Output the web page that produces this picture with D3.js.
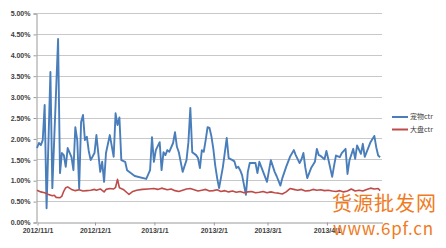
<!DOCTYPE html>
<html>
<head>
<meta charset="utf-8">
<script src="https://cdn.jsdelivr.net/npm/d3@7"></script>
<style>
  body { margin: 0; background: #fff; }
  svg { display: block; }
  .axis text { font-family: "Liberation Sans", "DejaVu Sans", sans-serif; font-size: 7px; font-weight: bold; fill: #404040; }
  .legend text { font-family: "Noto Sans CJK SC", sans-serif; font-size: 7px; fill: #404040; }
</style>
</head>
<body>
<div id="chart"></div>
<script>
const WIDTH = 446;
const HEIGHT = 248;
const PLOT_LEFT = 37;
const PLOT_RIGHT = 382;
const PLOT_TOP = 13;
const PLOT_BOTTOM = 222;

// 宠物ctr (percent)
const petDates = [
  '2012/11/1', '2012/11/2', '2012/11/3', '2012/11/4', '2012/11/5', '2012/11/6', '2012/11/8', '2012/11/9',
  '2012/11/12', '2012/11/13', '2012/11/14', '2012/11/15', '2012/11/16', '2012/11/17', '2012/11/19', '2012/11/20',
  '2012/11/21', '2012/11/22', '2012/11/23', '2012/11/24', '2012/11/25', '2012/11/26', '2012/11/27', '2012/11/28',
  '2012/11/29', '2012/12/1', '2012/12/2', '2012/12/4', '2012/12/5', '2012/12/6', '2012/12/7', '2012/12/9',
  '2012/12/11', '2012/12/12', '2012/12/13', '2012/12/14', '2012/12/15', '2012/12/17', '2012/12/18', '2012/12/22',
  '2012/12/28', '2012/12/30', '2012/12/31', '2013/1/1', '2013/1/2', '2013/1/4', '2013/1/5', '2013/1/6',
  '2013/1/7', '2013/1/8', '2013/1/9', '2013/1/11', '2013/1/12', '2013/1/13', '2013/1/14', '2013/1/16',
  '2013/1/18', '2013/1/19', '2013/1/20', '2013/1/21', '2013/1/23', '2013/1/24', '2013/1/25', '2013/1/26',
  '2013/1/27', '2013/1/28', '2013/1/29', '2013/1/30', '2013/1/31', '2013/2/1', '2013/2/2', '2013/2/3',
  '2013/2/4', '2013/2/6', '2013/2/8', '2013/2/9', '2013/2/11', '2013/2/12', '2013/2/13', '2013/2/14',
  '2013/2/15', '2013/2/16', '2013/2/18', '2013/2/19', '2013/2/20', '2013/2/23', '2013/2/24', '2013/2/25',
  '2013/2/27', '2013/3/1', '2013/3/3', '2013/3/5', '2013/3/6', '2013/3/8', '2013/3/9', '2013/3/11',
  '2013/3/13', '2013/3/15', '2013/3/16', '2013/3/18', '2013/3/19', '2013/3/20', '2013/3/21', '2013/3/22',
  '2013/3/24', '2013/3/26', '2013/3/27', '2013/3/28', '2013/3/29', '2013/3/31', '2013/4/1', '2013/4/2',
  '2013/4/4', '2013/4/5', '2013/4/6', '2013/4/8', '2013/4/9', '2013/4/11', '2013/4/12', '2013/4/13',
  '2013/4/15', '2013/4/16', '2013/4/17', '2013/4/19', '2013/4/20', '2013/4/21', '2013/4/23', '2013/4/24',
  '2013/4/26', '2013/4/27', '2013/4/28', '2013/4/29',
];
const petValues = [
  1.77, 1.89, 1.84, 1.96, 2.80, 0.33, 3.59, 0.81,
  4.38, 1.17, 1.65, 1.60, 1.32, 1.77, 1.55, 1.24,
  2.27, 1.96, 0.81, 2.39, 2.56, 1.96, 2.04, 1.70,
  1.48, 1.65, 2.08, 1.20, 1.44, 0.96, 1.65, 2.08,
  1.56, 2.60, 2.32, 2.50, 1.48, 1.44, 1.24, 1.10,
  1.03, 1.24, 2.03, 1.44, 1.72, 1.91, 1.24, 1.67,
  1.60, 1.72, 1.68, 1.89, 2.15, 1.80, 1.67, 1.20,
  1.48, 1.91, 2.73, 1.67, 1.60, 1.53, 1.29, 1.72,
  1.68, 1.96, 2.27, 2.25, 2.05, 1.75, 1.35, 1.05,
  0.81, 1.32, 2.01, 1.53, 1.48, 1.45, 1.29, 1.32,
  1.24, 1.12, 0.65, 1.20, 1.41, 1.41, 1.17, 1.44,
  1.20, 0.96, 1.48, 1.20, 1.10, 0.87, 1.05, 1.32,
  1.56, 1.72, 1.60, 1.41, 1.50, 1.65, 1.30, 1.05,
  1.29, 1.44, 1.75, 1.60, 1.58, 1.50, 1.70, 1.50,
  1.08, 1.35, 1.59, 1.55, 1.65, 1.75, 1.15, 1.47,
  1.75, 1.51, 1.83, 1.63, 1.87, 1.56, 1.79, 1.91,
  2.06, 1.79, 1.59, 1.55,
];

// 大盘ctr (percent)
const marketDates = [
  '2012/11/1', '2012/11/3', '2012/11/5', '2012/11/7', '2012/11/9', '2012/11/10', '2012/11/11', '2012/11/13',
  '2012/11/14', '2012/11/15', '2012/11/16', '2012/11/17', '2012/11/19', '2012/11/21', '2012/11/23', '2012/11/25',
  '2012/11/27', '2012/11/29', '2012/12/1', '2012/12/2', '2012/12/4', '2012/12/6', '2012/12/7', '2012/12/9',
  '2012/12/11', '2012/12/12', '2012/12/13', '2012/12/14', '2012/12/16', '2012/12/18', '2012/12/19', '2012/12/21',
  '2012/12/23', '2012/12/26', '2012/12/29', '2013/1/1', '2013/1/3', '2013/1/5', '2013/1/8', '2013/1/10',
  '2013/1/12', '2013/1/14', '2013/1/16', '2013/1/18', '2013/1/20', '2013/1/22', '2013/1/24', '2013/1/26',
  '2013/1/28', '2013/1/30', '2013/2/1', '2013/2/3', '2013/2/5', '2013/2/7', '2013/2/9', '2013/2/11',
  '2013/2/13', '2013/2/15', '2013/2/17', '2013/2/19', '2013/2/21', '2013/2/23', '2013/2/25', '2013/2/27',
  '2013/3/1', '2013/3/3', '2013/3/5', '2013/3/7', '2013/3/9', '2013/3/11', '2013/3/13', '2013/3/15',
  '2013/3/17', '2013/3/19', '2013/3/21', '2013/3/23', '2013/3/25', '2013/3/27', '2013/3/29', '2013/3/31',
  '2013/4/2', '2013/4/4', '2013/4/6', '2013/4/8', '2013/4/10', '2013/4/12', '2013/4/14', '2013/4/16',
  '2013/4/18', '2013/4/20', '2013/4/22', '2013/4/24', '2013/4/26', '2013/4/28', '2013/4/29',
];
const marketValues = [
  0.76, 0.72, 0.70, 0.66, 0.63, 0.64, 0.59, 0.58,
  0.62, 0.74, 0.82, 0.84, 0.78, 0.75, 0.77, 0.74,
  0.75, 0.76, 0.78, 0.76, 0.79, 0.72, 0.78, 0.80,
  0.79, 0.83, 1.02, 0.82, 0.78, 0.70, 0.66, 0.73,
  0.76, 0.78, 0.79, 0.80, 0.78, 0.81, 0.77, 0.79,
  0.75, 0.73, 0.76, 0.79, 0.80, 0.77, 0.74, 0.76,
  0.78, 0.74, 0.75, 0.77, 0.73, 0.75, 0.72, 0.74,
  0.71, 0.73, 0.70, 0.72, 0.73, 0.70, 0.71, 0.73,
  0.70, 0.72, 0.70, 0.69, 0.67, 0.72, 0.80, 0.78,
  0.76, 0.78, 0.74, 0.75, 0.78, 0.76, 0.77, 0.75,
  0.76, 0.74, 0.73, 0.75, 0.72, 0.74, 0.79, 0.74,
  0.76, 0.74, 0.78, 0.81, 0.79, 0.80, 0.75,
];

const yTicks = [0, 0.5, 1, 1.5, 2, 2.5, 3, 3.5, 4, 4.5, 5];
const xTicks = ['2012/11/1', '2012/12/1', '2013/1/1', '2013/2/1', '2013/3/1', '2013/4/1'];
const seriesNames = ['宠物ctr', '大盘ctr'];
const seriesColors = ['#4a7ebb', '#be4b48'];

const parseDate = d3.timeParse('%Y/%-m/%-d');
const formatDate = d3.timeFormat('%Y/%-m/%-d');
const formatPct = d3.format('.2%');

const series = [
  petDates.map((d, i) => ({ date: parseDate(d), value: petValues[i] })),
  marketDates.map((d, i) => ({ date: parseDate(d), value: marketValues[i] })),
];

const svg = d3.select('#chart').append('svg')
  .attr('width', WIDTH)
  .attr('height', HEIGHT);

const x = d3.scaleTime()
  .domain([parseDate('2012/11/1'), parseDate('2013/4/30')])
  .range([PLOT_LEFT, PLOT_RIGHT]);
const y = d3.scaleLinear()
  .domain([0, 5])
  .range([PLOT_BOTTOM, PLOT_TOP]);

// gridlines
svg.append('g')
  .selectAll('line')
  .data(yTicks.slice(1))
  .join('line')
  .attr('x1', PLOT_LEFT)
  .attr('x2', PLOT_RIGHT)
  .attr('y1', d => Math.round(y(d)) + 0.5)
  .attr('y2', d => Math.round(y(d)) + 0.5)
  .attr('stroke', '#c8c8c8')
  .attr('stroke-width', 1);

const yAxis = svg.append('g')
  .attr('class', 'axis')
  .attr('transform', `translate(${PLOT_LEFT - 0.5}, 0.5)`)
  .call(d3.axisLeft(y).tickValues(yTicks).tickSize(3).tickPadding(3)
    .tickFormat(d => formatPct(d / 100)));
yAxis.selectAll('path, line').attr('stroke', '#9a9a9a');

const xAxis = svg.append('g')
  .attr('class', 'axis')
  .attr('transform', `translate(0.5, ${Math.round(y(0)) + 0.5})`)
  .call(d3.axisBottom(x).tickValues(xTicks.map(parseDate)).tickSize(3).tickPadding(3)
    .tickSizeOuter(0).tickFormat(formatDate));
xAxis.selectAll('path, line').attr('stroke', '#9a9a9a');

const line = d3.line()
  .x(d => x(d.date))
  .y(d => y(d.value));

svg.append('g')
  .selectAll('path')
  .data(series)
  .join('path')
  .attr('d', line)
  .attr('fill', 'none')
  .attr('stroke', (d, i) => seriesColors[i])
  .attr('stroke-width', (d, i) => (i === 0 ? 1.9 : 1.6))
  .attr('stroke-linejoin', 'round');

// legend
const legend = svg.append('g')
  .attr('class', 'legend')
  .attr('transform', 'translate(392, 117)');
const legendItem = legend.selectAll('g')
  .data(seriesNames)
  .join('g')
  .attr('transform', (d, i) => `translate(0, ${i * 12.5})`);
legendItem.append('line')
  .attr('x1', 0)
  .attr('x2', 16)
  .attr('stroke', (d, i) => seriesColors[i])
  .attr('stroke-width', 2);
legendItem.append('text')
  .attr('x', 18)
  .attr('dy', '0.35em')
  .text(d => d);

// watermark
const mark = svg.append('g')
  .attr('fill', '#f07b1f')
  .attr('font-family', '"Noto Sans CJK SC", sans-serif');
mark.append('text')
  .attr('x', 332)
  .attr('y', 211)
  .attr('font-size', 20)
  .attr('textLength', 104)
  .text('货源批发网');
mark.append('text')
  .attr('x', 333)
  .attr('y', 235)
  .attr('font-size', 17)
  .attr('textLength', 100)
  .text('www.6pf.cn');
</script>
</body>
</html>
